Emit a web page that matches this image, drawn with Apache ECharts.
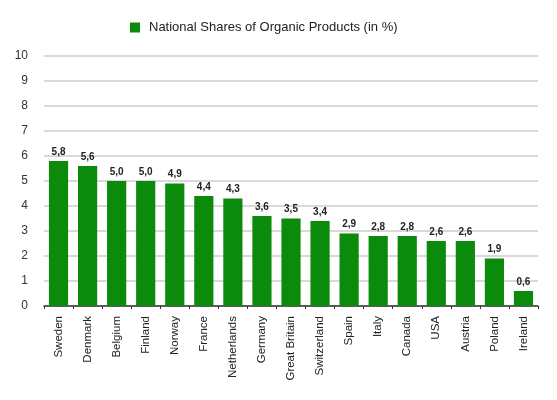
<!DOCTYPE html>
<html><head><meta charset="utf-8">
<script src="https://cdn.jsdelivr.net/npm/echarts@6/dist/echarts.min.js"></script>
<style>html,body{margin:0;padding:0;background:#fff}#c{width:557px;height:400px}</style>
</head><body><div id="c"></div>
<script>
const categories = ["Sweden","Denmark","Belgium","Finland","Norway","France","Netherlands","Germany","Great Britain","Switzerland","Spain","Italy","Canada","USA","Austria","Poland","Ireland"];
const shares = [5.8,5.6,5.0,5.0,4.9,4.4,4.3,3.6,3.5,3.4,2.9,2.8,2.8,2.6,2.6,1.9,0.6];
const seriesName = "National Shares of Organic Products (in %)";
const yTicks = [0,1,2,3,4,5,6,7,8,9,10];

const chart = echarts.init(document.getElementById('c'));
chart.setOption({
  animation:false,
  legend:{top:16,left:125,itemWidth:10,itemHeight:10,itemGap:8,
    textStyle:{fontFamily:'Liberation Sans, Arial',fontSize:13,color:'#222',padding:[0,0,0,4]},
    data:[{name:seriesName,icon:'rect'}]},
  grid:{left:44,right:19,top:56,bottom:94},
  xAxis:{type:'category',data:categories,
    axisLine:{lineStyle:{color:'#333',width:1.5}},
    axisTick:{show:true,length:3,lineStyle:{color:'#333'}},
    axisLabel:{rotate:90,interval:0,fontFamily:'Liberation Sans, Arial',fontSize:11.5,color:'#222',margin:10}},
  yAxis:{type:'value',min:yTicks[0],max:yTicks[yTicks.length-1],interval:1,
    axisLine:{show:false},axisTick:{show:false},
    splitLine:{lineStyle:{color:'#cccccc',width:1.5}},
    axisLabel:{fontFamily:'Liberation Sans, Arial',fontSize:12,color:'#333',margin:16}},
  series:[{name:seriesName,type:'bar',data:shares,barCategoryGap:'34%',
    itemStyle:{color:'#0b8a0b'},
    label:{show:true,position:'top',distance:4,fontFamily:'Liberation Sans, Arial',fontSize:10,fontWeight:'bold',color:'#222',
      formatter:p=>p.value.toFixed(1).replace('.',',')}}]
});
</script></body></html>
